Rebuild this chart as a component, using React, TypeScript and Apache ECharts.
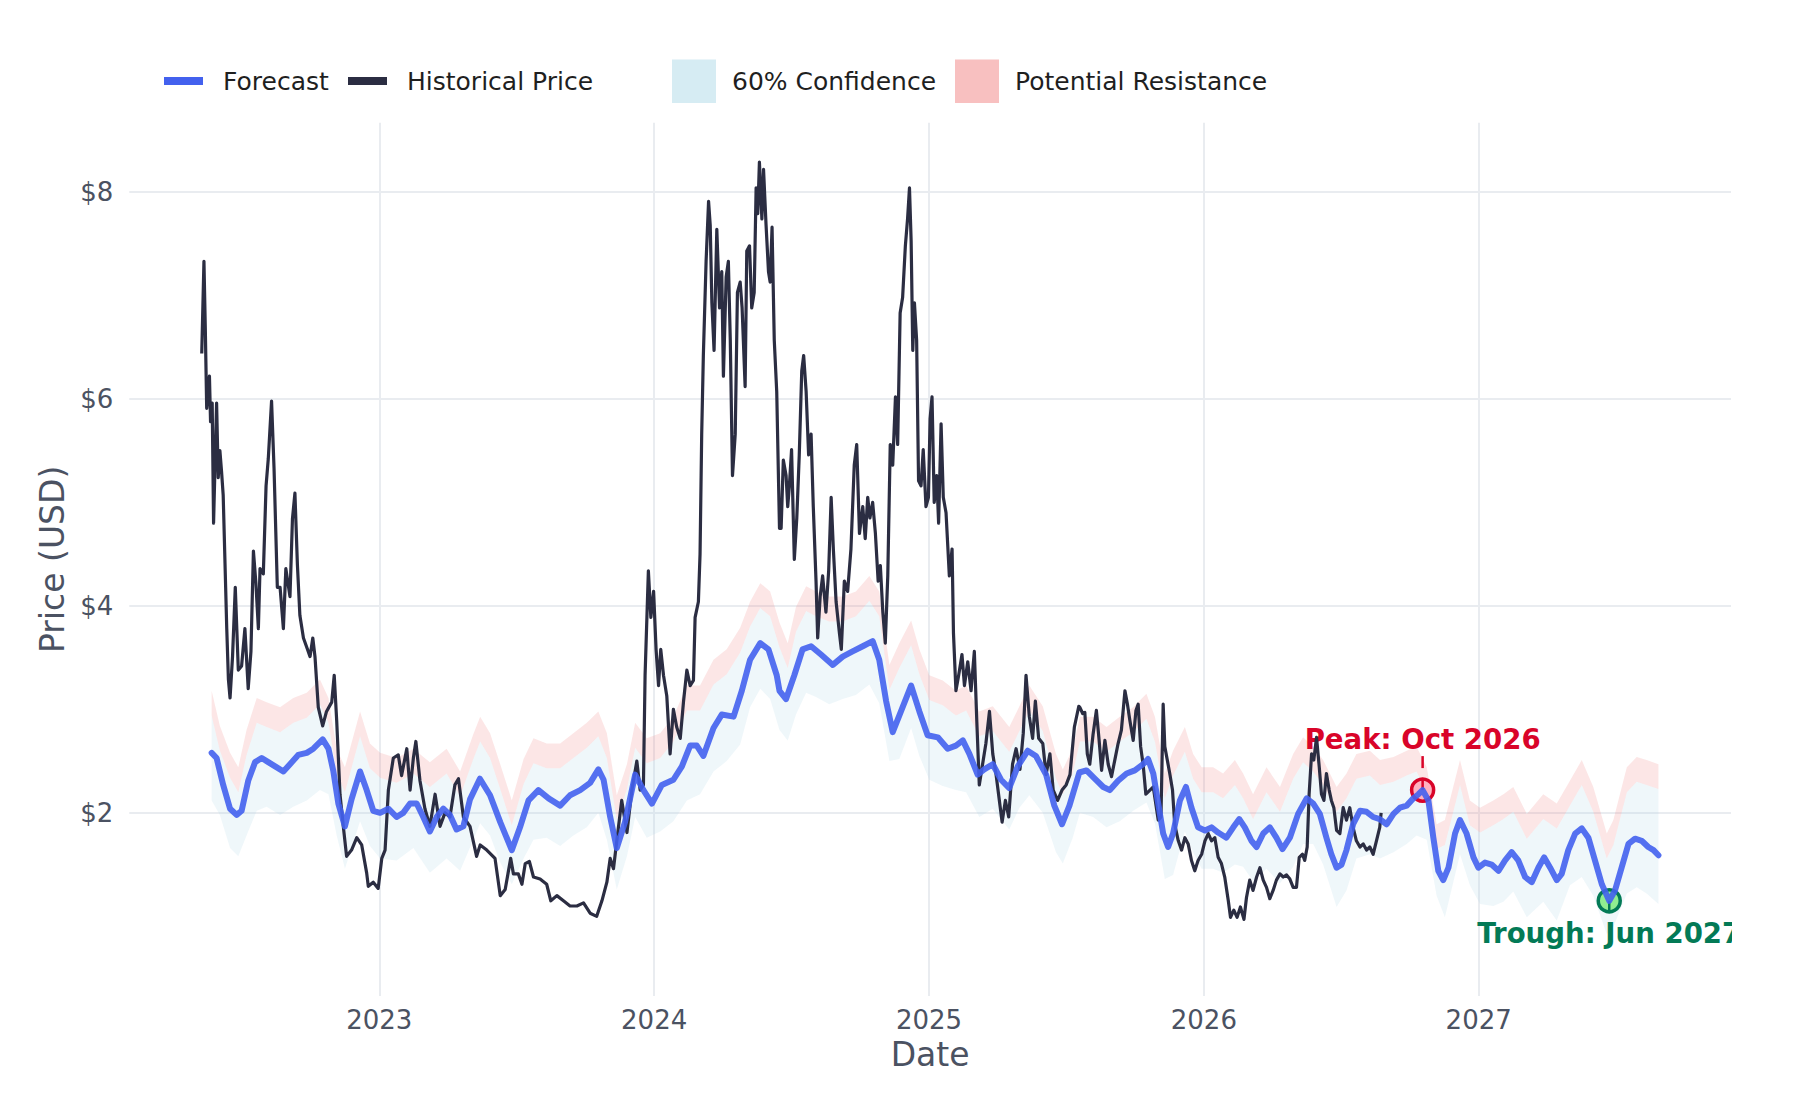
import { useEffect, useRef } from 'react';
import * as echarts from 'echarts';

const FONT = 'DejaVu Sans';
const AXIS_TEXT = '#4b5262';

// historical daily price, sampled (decimal year, USD)
const histYears = [
  2022.354, 2022.362, 2022.367, 2022.372, 2022.382, 2022.386, 2022.392, 2022.397, 2022.408, 2022.414,
  2022.420, 2022.426, 2022.432, 2022.445, 2022.451, 2022.457, 2022.466, 2022.476, 2022.487, 2022.499,
  2022.511, 2022.523, 2022.533, 2022.542, 2022.551, 2022.560, 2022.566, 2022.578, 2022.588, 2022.596,
  2022.608, 2022.617, 2022.629, 2022.639, 2022.651, 2022.660, 2022.675, 2022.684, 2022.693, 2022.702,
  2022.711, 2022.724, 2022.736, 2022.748, 2022.758, 2022.766, 2022.778, 2022.794, 2022.808, 2022.827,
  2022.836, 2022.845, 2022.857, 2022.869, 2022.881, 2022.899, 2022.918, 2022.936, 2022.954, 2022.960,
  2022.978, 2022.996, 2023.009, 2023.021, 2023.033, 2023.051, 2023.069, 2023.081, 2023.100, 2023.112,
  2023.124, 2023.133, 2023.148, 2023.166, 2023.184, 2023.203, 2023.221, 2023.239, 2023.257, 2023.275,
  2023.288, 2023.306, 2023.330, 2023.354,
  2023.367, 2023.391, 2023.421, 2023.440, 2023.458, 2023.478, 2023.488, 2023.506, 2023.519, 2023.531,
  2023.546, 2023.561, 2023.585, 2023.609, 2023.624, 2023.646, 2023.670, 2023.694, 2023.719, 2023.743,
  2023.767, 2023.791, 2023.810, 2023.828, 2023.840, 2023.852, 2023.870, 2023.882, 2023.901, 2023.919,
  2023.937, 2023.949, 2023.961, 2023.967, 2023.979, 2023.988, 2023.998, 2024.007, 2024.016, 2024.024,
  2024.034, 2024.046, 2024.058, 2024.070, 2024.082, 2024.095, 2024.107, 2024.119, 2024.131, 2024.143,
  2024.149, 2024.161, 2024.167, 2024.173, 2024.179, 2024.189, 2024.198, 2024.204, 2024.210, 2024.218,
  2024.228, 2024.238, 2024.246, 2024.252, 2024.262, 2024.270, 2024.277, 2024.285, 2024.295, 2024.303,
  2024.313, 2024.320, 2024.331, 2024.337, 2024.347, 2024.355, 2024.364, 2024.371, 2024.377, 2024.383,
  2024.392, 2024.398, 2024.407, 2024.416, 2024.422, 2024.429, 2024.437, 2024.446, 2024.456,
  2024.462, 2024.470, 2024.480, 2024.486, 2024.492, 2024.500, 2024.510, 2024.519, 2024.528, 2024.537,
  2024.544, 2024.553, 2024.562, 2024.571, 2024.579, 2024.589, 2024.595, 2024.604, 2024.613, 2024.625,
  2024.635, 2024.644, 2024.652, 2024.662, 2024.674, 2024.681, 2024.692, 2024.704, 2024.716, 2024.728,
  2024.737, 2024.747, 2024.759, 2024.768, 2024.777, 2024.785, 2024.795, 2024.805, 2024.815, 2024.823,
  2024.832, 2024.841, 2024.850, 2024.859, 2024.868, 2024.878, 2024.886, 2024.895, 2024.904, 2024.914,
  2024.922, 2024.929, 2024.935, 2024.941, 2024.947, 2024.955, 2024.962, 2024.971, 2024.979, 2024.989,
  2024.998, 2025.004, 2025.011, 2025.019, 2025.028, 2025.035, 2025.044, 2025.052, 2025.062, 2025.074,
  2025.084, 2025.089, 2025.098, 2025.108, 2025.120, 2025.129, 2025.141, 2025.153, 2025.165, 2025.174,
  2025.183, 2025.195, 2025.207, 2025.220, 2025.232, 2025.244, 2025.256, 2025.266, 2025.278, 2025.290,
  2025.304, 2025.317, 2025.331, 2025.343, 2025.353, 2025.365, 2025.377, 2025.387, 2025.399, 2025.414,
  2025.426, 2025.440, 2025.452, 2025.468, 2025.484, 2025.499, 2025.513, 2025.529, 2025.545,
  2025.549, 2025.559, 2025.567, 2025.576, 2025.585, 2025.597, 2025.609, 2025.619, 2025.628, 2025.640,
  2025.652, 2025.664, 2025.676, 2025.688, 2025.700, 2025.713, 2025.722, 2025.731, 2025.743, 2025.753,
  2025.761, 2025.770, 2025.779, 2025.789, 2025.804, 2025.816, 2025.834, 2025.844, 2025.852, 2025.858,
  2025.867, 2025.876, 2025.886, 2025.894, 2025.907, 2025.919, 2025.931, 2025.943, 2025.955, 2025.967,
  2025.979, 2025.992, 2026.004, 2026.016, 2026.028, 2026.040, 2026.052, 2026.064, 2026.076, 2026.089,
  2026.097, 2026.109, 2026.121, 2026.133, 2026.146, 2026.155, 2026.167, 2026.179, 2026.192, 2026.204,
  2026.216, 2026.228, 2026.240, 2026.252, 2026.264, 2026.277, 2026.289, 2026.301, 2026.313, 2026.325,
  2026.337, 2026.347, 2026.359, 2026.367, 2026.376, 2026.383, 2026.392, 2026.400, 2026.410, 2026.420,
  2026.428, 2026.437, 2026.446, 2026.456, 2026.464, 2026.473, 2026.483, 2026.495, 2026.507, 2026.519,
  2026.531, 2026.543, 2026.555, 2026.568, 2026.580, 2026.592, 2026.604, 2026.616, 2026.628, 2026.640,
  2026.645,
];
const histPrice = [
  6.44, 7.33, 6.67, 5.91, 6.22, 5.78, 5.96, 4.80, 5.96, 5.24,
  5.50, 5.30, 5.07, 3.78, 3.29, 3.11, 3.51, 4.18, 3.38, 3.42,
  3.78, 3.20, 3.56, 4.53, 4.22, 3.78, 4.36, 4.31, 5.16, 5.42,
  5.98, 5.33, 4.18, 4.18, 3.78, 4.36, 4.09, 4.84, 5.09, 4.40,
  3.91, 3.69, 3.60, 3.51, 3.69, 3.51, 3.02, 2.84, 2.98, 3.07,
  3.33, 2.89, 2.18, 1.87, 1.58, 1.64, 1.76, 1.69, 1.42, 1.29,
  1.33, 1.27, 1.56, 1.64, 2.22, 2.53, 2.56, 2.36, 2.62, 2.22,
  2.53, 2.69, 2.31, 2.04, 1.87, 2.18, 1.87, 2.00, 1.96, 2.27,
  2.33, 1.96, 1.87, 1.58,
  1.69, 1.64, 1.56, 1.20, 1.26, 1.56, 1.41, 1.41, 1.31, 1.51,
  1.53, 1.38, 1.36, 1.31, 1.15, 1.20, 1.15, 1.10, 1.10, 1.13,
  1.03, 1.00, 1.15, 1.33, 1.56, 1.46, 1.86, 2.12, 1.81, 2.22,
  2.50, 2.22, 2.27, 3.33, 4.34, 3.89, 4.14, 3.58, 3.23, 3.58,
  3.33, 3.13, 2.57, 3.00, 2.83, 2.72, 3.08, 3.38, 3.23, 3.28,
  3.89, 4.04, 4.50, 5.66, 6.42, 7.33, 7.91, 7.68, 6.93, 6.47,
  7.64, 6.88, 7.23, 6.22, 7.18, 7.33, 6.57, 5.26, 5.66, 7.03,
  7.13, 6.88, 6.12, 7.43, 7.48, 6.88, 7.03, 8.04, 7.79, 8.29,
  7.74, 8.22, 7.69, 7.23, 7.13, 7.66, 6.57, 6.07, 4.75,
  4.75, 5.41, 5.26, 4.96, 5.16, 5.51, 4.45, 4.85, 5.46, 6.27,
  6.42, 6.07, 5.46, 5.66, 4.96, 4.24, 3.69, 4.09, 4.29, 3.94,
  4.34, 5.05, 4.55, 4.04, 3.74, 3.58, 4.24, 4.14, 4.55, 5.36,
  5.56, 4.70, 4.96, 4.65, 5.05, 4.85, 5.00, 4.70, 4.24, 4.39,
  3.94, 3.64, 4.29, 5.56, 5.36, 6.02, 5.56, 6.83, 6.98, 7.48,
  7.74, 8.04, 7.53, 6.47, 6.93, 6.57, 5.21, 5.16, 5.51, 4.96,
  5.05, 5.81, 6.02, 5.00, 5.26, 4.80, 5.76, 5.05, 4.90, 4.29,
  4.55, 3.74, 3.18, 3.33, 3.53, 3.23, 3.46, 3.18, 3.56, 2.88,
  2.27, 2.47, 2.67, 2.98, 2.57, 2.37, 2.12, 1.91, 2.12, 1.96,
  2.47, 2.62, 2.42, 2.77, 3.33, 2.93, 2.72, 3.08, 2.72, 2.67,
  2.37, 2.57, 2.22, 2.12, 2.22, 2.27, 2.37, 2.83, 3.03,
  3.02, 2.96, 2.97, 2.57, 2.47, 2.76, 2.99, 2.70, 2.41, 2.70,
  2.47, 2.35, 2.51, 2.67, 2.80, 3.18, 3.05, 2.89, 2.70, 2.99,
  3.05, 2.64, 2.47, 2.18, 2.22, 2.25, 1.93, 1.96, 3.05, 2.64,
  2.51, 2.38, 2.22, 1.89, 1.73, 1.64, 1.76, 1.70, 1.54, 1.44,
  1.54, 1.60, 1.73, 1.80, 1.73, 1.76, 1.57, 1.51, 1.38, 1.15,
  0.99, 1.06, 0.99, 1.09, 0.97, 1.18, 1.35, 1.25, 1.38, 1.47,
  1.35, 1.28, 1.17, 1.25, 1.35, 1.41, 1.38, 1.40, 1.36, 1.28,
  1.28, 1.57, 1.60, 1.54, 1.67, 2.18, 2.57, 2.51, 2.73, 2.44,
  2.18, 2.12, 2.38, 2.22, 2.12, 2.05, 1.83, 1.80, 2.05, 1.93,
  2.05, 1.86, 1.73, 1.67, 1.70, 1.64, 1.67, 1.60, 1.73, 1.86,
  2.00,
];

// forecast centre line
const forecastYears = [
  2022.390, 2022.408, 2022.432, 2022.457, 2022.481, 2022.499, 2022.523, 2022.548, 2022.572, 2022.596,
  2022.627, 2022.651, 2022.675, 2022.705, 2022.736, 2022.760, 2022.794, 2022.815, 2022.833, 2022.851,
  2022.875, 2022.899, 2022.930, 2022.954, 2022.978, 2023.003, 2023.033, 2023.063, 2023.087, 2023.112,
  2023.136, 2023.160, 2023.184, 2023.209, 2023.233, 2023.257, 2023.281, 2023.306, 2023.330, 2023.366,
  2023.403, 2023.440, 2023.482, 2023.512, 2023.543, 2023.579, 2023.616, 2023.658, 2023.694, 2023.731,
  2023.767, 2023.797, 2023.816, 2023.840, 2023.864, 2023.894, 2023.931, 2023.961, 2023.992, 2024.028,
  2024.070, 2024.101, 2024.131, 2024.155, 2024.179, 2024.216, 2024.246, 2024.289, 2024.319, 2024.349,
  2024.386, 2024.416, 2024.446,
  2024.456, 2024.480, 2024.510, 2024.540, 2024.571, 2024.607, 2024.650, 2024.686, 2024.722, 2024.759,
  2024.795, 2024.819, 2024.844, 2024.868, 2024.898, 2024.935, 2024.965, 2024.995, 2025.032, 2025.068,
  2025.098, 2025.123, 2025.147, 2025.177, 2025.201, 2025.232, 2025.262, 2025.292, 2025.323, 2025.359,
  2025.389, 2025.426, 2025.456, 2025.484, 2025.511, 2025.547,
  2025.573, 2025.603, 2025.634, 2025.658, 2025.688, 2025.719, 2025.749, 2025.779, 2025.797, 2025.816,
  2025.834, 2025.852, 2025.870, 2025.888, 2025.913, 2025.935, 2025.955, 2025.979, 2026.004, 2026.028,
  2026.052, 2026.082, 2026.107, 2026.129, 2026.149, 2026.173, 2026.192, 2026.216, 2026.240, 2026.264,
  2026.286, 2026.313, 2026.343, 2026.374, 2026.398, 2026.422, 2026.446, 2026.464, 2026.483, 2026.501,
  2026.519, 2026.543, 2026.568, 2026.592, 2026.616, 2026.640,
  2026.665, 2026.690, 2026.714, 2026.738, 2026.762, 2026.781, 2026.796, 2026.817, 2026.835, 2026.853,
  2026.871, 2026.890, 2026.914, 2026.932, 2026.956, 2026.981, 2026.999, 2027.023, 2027.047, 2027.072,
  2027.096, 2027.120, 2027.144, 2027.169, 2027.193, 2027.217, 2027.238, 2027.260, 2027.284, 2027.302,
  2027.326, 2027.351, 2027.375, 2027.399, 2027.423, 2027.448, 2027.475, 2027.496, 2027.520, 2027.545,
  2027.569, 2027.593, 2027.617, 2027.636, 2027.654,
];
const forecastPrice = [
  2.58, 2.53, 2.27, 2.04, 1.98, 2.02, 2.31, 2.49, 2.53, 2.49,
  2.44, 2.40, 2.47, 2.56, 2.58, 2.62, 2.71, 2.62, 2.40, 2.09,
  1.87, 2.13, 2.40, 2.22, 2.02, 2.00, 2.04, 1.96, 2.00, 2.09,
  2.09, 1.96, 1.82, 1.96, 2.04, 1.98, 1.84, 1.87, 2.13, 2.33,
  2.17, 1.91, 1.64, 1.86, 2.12, 2.22, 2.14, 2.07, 2.17, 2.22,
  2.29, 2.42, 2.32, 1.96, 1.66, 1.91, 2.37, 2.22, 2.09, 2.27,
  2.32, 2.45, 2.65, 2.65, 2.55, 2.82, 2.95, 2.93, 3.18, 3.48,
  3.64, 3.58, 3.33,
  3.18, 3.10, 3.33, 3.58, 3.61, 3.53, 3.43, 3.51, 3.56, 3.61,
  3.66, 3.48, 3.08, 2.78, 2.98, 3.23, 2.98, 2.75, 2.73, 2.62,
  2.65, 2.70, 2.57, 2.37, 2.42, 2.47, 2.32, 2.24, 2.45, 2.60,
  2.55, 2.37, 2.07, 1.89, 2.07, 2.39,
  2.41, 2.33, 2.25, 2.22, 2.31, 2.38, 2.41, 2.47, 2.52, 2.38,
  2.09, 1.80, 1.67, 1.80, 2.12, 2.25, 2.05, 1.86, 1.83, 1.86,
  1.81, 1.76, 1.86, 1.94, 1.86, 1.73, 1.67, 1.80, 1.86, 1.76,
  1.65, 1.76, 1.99, 2.14, 2.09, 1.99, 1.76, 1.60, 1.47, 1.50,
  1.64, 1.89, 2.02, 2.01, 1.96, 1.94,
  1.89, 1.99, 2.05, 2.07, 2.14, 2.18, 2.22, 2.12, 1.76, 1.44,
  1.35, 1.47, 1.80, 1.93, 1.80, 1.57, 1.47, 1.52, 1.50, 1.44,
  1.54, 1.62, 1.54, 1.38, 1.33, 1.47, 1.57, 1.47, 1.35, 1.41,
  1.64, 1.80, 1.85, 1.76, 1.54, 1.31, 1.15, 1.25, 1.47, 1.70,
  1.75, 1.73, 1.67, 1.64, 1.59,
];

// bands: 60% confidence (low..high) and resistance zone (high..resistHigh)
const bandYears = [
  2022.390, 2022.420, 2022.457, 2022.487, 2022.517, 2022.554, 2022.590, 2022.639, 2022.687, 2022.736,
  2022.784, 2022.815, 2022.845, 2022.875, 2022.930, 2022.966, 2023.003, 2023.063, 2023.124, 2023.184,
  2023.245, 2023.294, 2023.342, 2023.367, 2023.403, 2023.440, 2023.482, 2023.525, 2023.561, 2023.609,
  2023.658, 2023.706, 2023.755, 2023.797, 2023.828, 2023.864, 2023.901, 2023.931, 2023.973, 2024.022,
  2024.070, 2024.119, 2024.167, 2024.216, 2024.264, 2024.313, 2024.349, 2024.386, 2024.422, 2024.456,
  2024.486, 2024.516, 2024.553, 2024.589, 2024.637, 2024.686, 2024.734, 2024.783, 2024.819, 2024.856,
  2024.892, 2024.935, 2024.965, 2025.001, 2025.050, 2025.098, 2025.135, 2025.183, 2025.232, 2025.292,
  2025.329, 2025.365, 2025.414, 2025.462, 2025.487, 2025.523, 2025.549, 2025.597, 2025.646, 2025.694,
  2025.743, 2025.791, 2025.822, 2025.858, 2025.888, 2025.931, 2025.961, 2025.992, 2026.034, 2026.070,
  2026.113, 2026.143, 2026.179, 2026.228, 2026.277, 2026.325, 2026.361, 2026.398, 2026.434, 2026.483,
  2026.519, 2026.555, 2026.604, 2026.641, 2026.690, 2026.738, 2026.774, 2026.811, 2026.847, 2026.877,
  2026.932, 2026.968, 2027.005, 2027.053, 2027.090, 2027.126, 2027.175, 2027.235, 2027.284, 2027.332,
  2027.375, 2027.417, 2027.466, 2027.490, 2027.539, 2027.575, 2027.611, 2027.654,
];
const confLow = [
  2.12, 1.98, 1.66, 1.58, 1.78, 2.02, 2.06, 1.98, 2.06, 2.12,
  2.22, 2.18, 1.78, 1.46, 1.92, 1.68, 1.56, 1.54, 1.66, 1.42,
  1.56, 1.44, 1.74, 1.90, 1.78, 1.52, 1.31, 1.56, 1.74, 1.76,
  1.68, 1.78, 1.86, 2.00, 1.74, 1.26, 1.58, 1.96, 1.76, 1.82,
  1.92, 2.12, 2.18, 2.40, 2.50, 2.66, 3.02, 3.20, 3.10, 2.80,
  2.70, 2.95, 3.16, 3.12, 3.05, 3.10, 3.14, 3.24, 3.06, 2.50,
  2.52, 2.82, 2.55, 2.32, 2.26, 2.22, 2.20, 1.96, 2.04, 1.84,
  2.05, 2.17, 2.00, 1.62, 1.51, 1.76, 2.00, 1.96, 1.86, 1.92,
  2.02, 2.10, 1.90, 1.36, 1.40, 1.82, 1.62, 1.46, 1.46, 1.42,
  1.50, 1.48, 1.34, 1.46, 1.32, 1.48, 1.70, 1.70, 1.50, 1.09,
  1.25, 1.56, 1.60, 1.56, 1.62, 1.70, 1.78, 1.74, 1.20, 0.99,
  1.60, 1.30, 1.12, 1.10, 1.14, 1.24, 0.99, 1.14, 0.96, 1.30,
  1.38, 1.20, 0.83, 0.90, 1.22, 1.28, 1.22, 1.12,
];
const confHigh = [
  2.94, 2.60, 2.34, 2.20, 2.56, 2.87, 2.83, 2.78, 2.87, 2.92,
  3.05, 2.87, 2.38, 2.20, 2.74, 2.43, 2.34, 2.29, 2.38, 2.25,
  2.38, 2.16, 2.52, 2.69, 2.53, 2.23, 1.88, 2.28, 2.48, 2.43,
  2.43, 2.53, 2.63, 2.74, 2.53, 1.93, 2.23, 2.63, 2.48, 2.53,
  2.69, 2.99, 2.99, 3.24, 3.34, 3.55, 3.80, 3.98, 3.90, 3.60,
  3.40, 3.75, 3.95, 3.90, 3.85, 3.85, 3.90, 4.05, 3.90, 3.19,
  3.40, 3.62, 3.34, 3.09, 3.04, 2.94, 2.99, 2.74, 2.79, 2.59,
  2.79, 2.99, 2.79, 2.33, 2.18, 2.38, 2.69, 2.69, 2.59, 2.69,
  2.78, 2.91, 2.69, 2.14, 2.36, 2.59, 2.33, 2.20, 2.20, 2.14,
  2.27, 2.14, 1.94, 2.20, 2.01, 2.33, 2.49, 2.40, 2.27, 2.01,
  2.14, 2.33, 2.36, 2.27, 2.30, 2.36, 2.40, 2.20, 1.65, 1.69,
  2.27, 1.88, 1.81, 1.88, 1.94, 2.01, 1.75, 1.94, 1.85, 2.07,
  2.27, 2.01, 1.56, 1.69, 2.20, 2.30, 2.27, 2.23,
];
const resistHigh = [
  3.18, 2.84, 2.58, 2.44, 2.80, 3.11, 3.07, 3.02, 3.11, 3.16,
  3.29, 3.11, 2.62, 2.44, 2.98, 2.67, 2.58, 2.53, 2.62, 2.49,
  2.62, 2.40, 2.76, 2.93, 2.77, 2.47, 2.12, 2.52, 2.72, 2.67,
  2.67, 2.77, 2.87, 2.98, 2.77, 2.17, 2.47, 2.87, 2.72, 2.77,
  2.93, 3.23, 3.23, 3.48, 3.58, 3.79, 4.04, 4.22, 4.14, 3.84,
  3.64, 3.99, 4.19, 4.14, 4.09, 4.09, 4.14, 4.29, 4.14, 3.43,
  3.64, 3.86, 3.58, 3.33, 3.28, 3.18, 3.23, 2.98, 3.03, 2.83,
  3.03, 3.23, 3.03, 2.57, 2.42, 2.62, 2.93, 2.93, 2.83, 2.93,
  3.02, 3.15, 2.93, 2.38, 2.60, 2.83, 2.57, 2.44, 2.44, 2.38,
  2.51, 2.38, 2.18, 2.44, 2.25, 2.57, 2.73, 2.64, 2.51, 2.25,
  2.38, 2.57, 2.60, 2.51, 2.54, 2.60, 2.64, 2.44, 1.89, 1.93,
  2.51, 2.12, 2.05, 2.12, 2.18, 2.25, 1.99, 2.18, 2.09, 2.31,
  2.51, 2.25, 1.80, 1.93, 2.44, 2.54, 2.51, 2.47,
];

const peakPoint = [2026.796, 2.22];
const troughPoint = [2027.475, 1.15];
const xTickYears = [2023, 2024, 2025, 2026, 2027];
const yTickValues = [2, 4, 6, 8];

const annotations = [
  { point: peakPoint, text: 'Peak: Oct 2026', color: '#d90429', fill: '#ffb3c1', textDy: -51, stem: [-34, -22], inner: [-10, 0] },
  { point: troughPoint, text: 'Trough: Jun 2027', color: '#037a56', fill: '#90ee90', textDy: 33, stem: null, inner: [0, 12] },
];

const legendItems = [
  { kind: 'line', x: 164, color: '#4361ee', label: 'Forecast', tx: 223 },
  { kind: 'line', x: 348, color: '#2b2d42', label: 'Historical Price', tx: 407 },
  { kind: 'box', x: 672, color: '#d6ecf3', label: '60% Confidence', tx: 732 },
  { kind: 'box', x: 955, color: '#f8c0c0', label: 'Potential Resistance', tx: 1015 },
];

function buildOption() {
  const hist = histYears.map((t, i) => [t, histPrice[i]]);
  const forecast = forecastYears.map((t, i) => [t, forecastPrice[i]]);

  const legend: any[] = [];
  legendItems.forEach((it) => {
    legend.push(
      it.kind === 'line'
        ? { type: 'rect', shape: { x: it.x, y: 77, width: 39, height: 8 }, style: { fill: it.color } }
        : { type: 'rect', shape: { x: it.x, y: 59.5, width: 44, height: 43.5 }, style: { fill: it.color } },
    );
    legend.push({
      type: 'text', x: it.tx, y: 81,
      style: { text: it.label, fontSize: 25, fontFamily: FONT, fill: '#1f1f1f', verticalAlign: 'middle' },
    });
  });

  // one polygon per band, drawn through the axis scales
  const renderBands = (_params: any, api: any) => {
    const low = bandYears.map((t, i) => api.coord([t, confLow[i]]));
    const high = bandYears.map((t, i) => api.coord([t, confHigh[i]]));
    const top = bandYears.map((t, i) => api.coord([t, resistHigh[i]]));
    return {
      type: 'group',
      children: [
        { type: 'polygon', shape: { points: low.concat(high.slice().reverse()) }, style: { fill: 'rgba(173,216,230,0.2)' } },
        { type: 'polygon', shape: { points: high.concat(top.slice().reverse()) }, style: { fill: 'rgba(240,128,128,0.2)' } },
      ],
    };
  };

  const renderNotes = (params: any, api: any) => {
    const a = annotations[params.dataIndex];
    const [cx, cy] = api.coord([api.value(0), api.value(1)]);
    const children: any[] = [
      { type: 'circle', shape: { cx, cy, r: 11 }, style: { fill: a.fill, stroke: a.color, lineWidth: 3.5 } },
      {
        type: 'line', shape: { x1: cx, y1: cy + a.inner[0], x2: cx, y2: cy + a.inner[1] },
        style: { stroke: a.color, lineWidth: 2.5 },
      },
      {
        type: 'text', x: cx, y: cy + a.textDy,
        style: {
          text: a.text, fill: a.color, fontSize: 27.6, fontWeight: 'bold', fontFamily: FONT,
          align: 'center', verticalAlign: 'middle',
        },
      },
    ];
    if (a.stem) {
      children.push({
        type: 'line', shape: { x1: cx, y1: cy + a.stem[0], x2: cx, y2: cy + a.stem[1] },
        style: { stroke: a.color, lineWidth: 2.5 },
      });
    }
    return { type: 'group', children };
  };

  return {
    animation: false,
    backgroundColor: '#ffffff',
    textStyle: { fontFamily: FONT },
    grid: { left: 129.3, right: 69, top: 122.7, bottom: 104, containLabel: false, outerBoundsMode: 'none' },
    graphic: { elements: legend },
    xAxis: {
      type: 'value', min: 2022.0904, max: 2027.918,
      axisLine: { show: false }, axisTick: { show: false },
      splitLine: { show: true, showMinLine: false, showMaxLine: false, lineStyle: { color: '#e9ecf0', width: 2 } },
      axisLabel: {
        showMinLabel: false, showMaxLabel: false, margin: 11, fontSize: 26, color: AXIS_TEXT, fontFamily: FONT,
        formatter: (v: number) => (xTickYears.includes(v) ? String(v) : ''),
      },
      name: 'Date', nameLocation: 'middle', nameGap: 40,
      nameTextStyle: { fontSize: 33, color: AXIS_TEXT, fontFamily: FONT },
    },
    yAxis: {
      type: 'value', min: 0.23, max: 8.67,
      axisLine: { show: false }, axisTick: { show: false },
      splitLine: { show: true, showMinLine: false, showMaxLine: false, lineStyle: { color: '#e9ecf0', width: 2 } },
      axisLabel: {
        showMinLabel: false, showMaxLabel: false, margin: 16, fontSize: 26, color: AXIS_TEXT, fontFamily: FONT,
        formatter: (v: number) => (yTickValues.includes(v) ? '$' + v : ''),
      },
      name: 'Price (USD)', nameLocation: 'middle', nameRotate: 90, nameGap: 58,
      nameTextStyle: { fontSize: 33, color: AXIS_TEXT, fontFamily: FONT },
    },
    series: [
      {
        type: 'line', name: 'Historical Price', data: hist, symbol: 'none', silent: true,
        lineStyle: { color: '#2b2d42', width: 3.2, join: 'round' },
      },
      {
        type: 'custom', name: 'Bands', silent: true, clip: true,
        data: [[bandYears[0], confLow[0]]],
        renderItem: renderBands,
      },
      {
        type: 'line', name: 'Forecast', data: forecast, symbol: 'none', silent: true,
        lineStyle: { color: '#4361ee', width: 6, opacity: 0.9, join: 'round', cap: 'round' },
      },
      {
        type: 'custom', name: 'Notes', clip: true, silent: true,
        data: annotations.map((a) => a.point),
        renderItem: renderNotes,
      },
    ],
  };
}

export default function App() {
  const ref = useRef<HTMLDivElement>(null);

  useEffect(() => {
    if (!ref.current) return;
    const chart = echarts.init(ref.current, undefined, { renderer: 'svg' });
    chart.setOption(buildOption());
    return () => chart.dispose();
  }, []);

  return (
    <div
      ref={ref}
      style={{ position: 'absolute', left: 0, top: 0, width: 1800, height: 1100, background: '#ffffff' }}
    />
  );
}
